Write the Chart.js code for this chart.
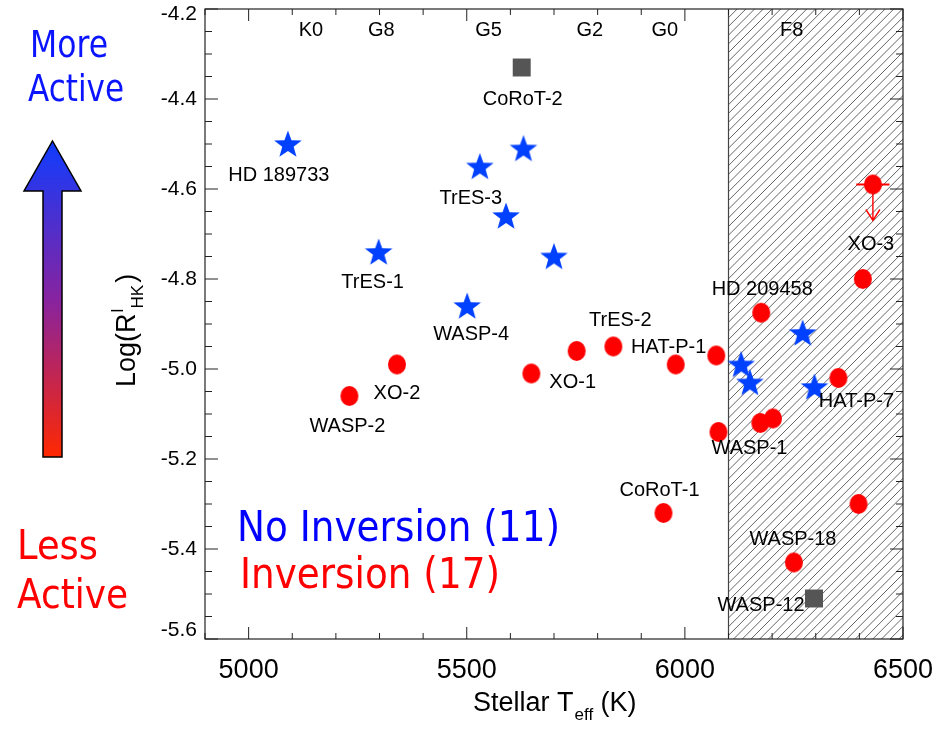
<!DOCTYPE html>
<html>
<head>
<meta charset="utf-8">
<script src="https://cdn.jsdelivr.net/npm/chart.js@4.4.1/dist/chart.umd.min.js"></script>
<style>
  html, body { margin: 0; padding: 0; background: #fff; }
</style>
</head>
<body>
<canvas id="myChart" width="950" height="729"></canvas>
<script>
// stars without a thermal inversion (blue)
const noInvTeff = [5090, 5530, 5630, 5590, 5298, 5700, 5501, 6270, 6129, 6149, 6297];
const noInvLogR = [-4.50, -4.55, -4.51, -4.66, -4.74, -4.75, -4.86, -4.92, -4.99, -5.03, -5.04];
const noInvNames = ['HD 189733', 'TrES-3', '', '', 'TrES-1', '', 'WASP-4', '', '', '', ''];

// stars with an inversion (red)
const invTeff = [5231, 5340, 5648, 5752, 5836, 5979, 6072, 6175, 6408, 6352, 6173, 6202, 6077, 5951, 6398, 6250, 6431];
const invLogR = [-5.06, -4.99, -5.01, -4.96, -4.95, -4.99, -4.97, -4.875, -4.80, -5.02, -5.12, -5.11, -5.14, -5.32, -5.30, -5.43, -4.59];
const invNames = ['WASP-2', 'XO-2', '', 'XO-1', 'TrES-2', 'HAT-P-1', '', 'HD 209458', '', 'HAT-P-7', '', '', 'WASP-1', 'CoRoT-1', '', 'WASP-18', 'XO-3'];

// undetermined (grey squares)
const otherTeff = [5626, 6296];
const otherLogR = [-4.33, -5.51];
const otherNames = ['CoRoT-2', 'WASP-12'];

// XO-3 is an upper limit with a Teff error bar
const xo3TeffErr = [6393, 6469];
const xo3LimitTo = -4.67;

const xTickLabels = [5000, 5500, 6000, 6500];
const yTickLabels = [-5.6, -5.4, -5.2, -5.0, -4.8, -4.6, -4.4, -4.2];
const spTypes = ['K0', 'G8', 'G5', 'G2', 'G0', 'F8'];
const spTeff = [5143, 5304, 5550, 5782, 5954, 6245];
const hatchFrom = 6100;

// label offsets in px from the marker (same order as names)
const noInvOffsets = [[-9, 30], [-9, 30], null, null, [-6, 29], null, [4, 27], null, null, null, null];
const invOffsets = [[-2, 29], [0, 27], null, [-4, 30], [7, -28], [-7, -19], null, [1, -25], null, [18, 22], null, null, [31, 15], [-4, -24], null, [-1, -25], [-2, 58]];
const otherOffsets = [[1, 30], [-53, 5]];

const SANS = '"Liberation Sans", Arial, Helvetica, sans-serif';
const VERA = '"DejaVu Sans", Verdana, sans-serif';

function makeStar(color){
  let c = document.createElement('canvas');
  c.width = 32; c.height = 32;
  let g = c.getContext('2d');
  g.beginPath();
  for (let i = 0; i < 10; i++) {
    let r = i % 2 === 0 ? 14.5 : 6.0;
    let a = -Math.PI / 2 + i * Math.PI / 5;
    let px = 16 + r * Math.cos(a), py = 17 + r * Math.sin(a);
    if (i === 0) g.moveTo(px, py); else g.lineTo(px, py);
  }
  g.closePath();
  g.fillStyle = color;
  g.fill();
  return c;
}

function makeDot(color){
  let c = document.createElement('canvas');
  c.width = 20; c.height = 22;
  let g = c.getContext('2d');
  g.beginPath();
  g.ellipse(10, 11, 9, 10, 0, 0, Math.PI * 2);
  g.fillStyle = color;
  g.fill();
  return c;
}

function pts(xs, ys){
  return xs.map((t, i) => ({x: t, y: ys[i]}));
}

// text squeezed to a given width (the original font is narrower than DejaVu)
function fitText(g, txt, x, y, size, width, color){
  g.save();
  g.font = size + 'px ' + VERA;
  g.fillStyle = color;
  g.textAlign = 'left';
  g.textBaseline = 'alphabetic';
  let w = g.measureText(txt).width;
  g.translate(x, y);
  g.scale(width / w, 1);
  g.fillText(txt, 0, 0);
  g.restore();
}

const hatchPlugin = {
  id: 'hatch',
  beforeDatasetsDraw(chart){
    const {ctx, chartArea: a, scales: {x, y}} = chart;
    const x0 = x.getPixelForValue(hatchFrom);
    const h = a.bottom - a.top;
    ctx.save();
    ctx.beginPath();
    ctx.rect(x0, a.top, a.right - x0, h);
    ctx.clip();
    ctx.strokeStyle = '#555';
    ctx.lineWidth = 0.9;
    for (let s = x0 - h; s < a.right + 10; s += 8.7) {
      ctx.beginPath();
      ctx.moveTo(s, a.bottom);
      ctx.lineTo(s + h, a.top);
      ctx.stroke();
    }
    ctx.restore();
    ctx.save();
    ctx.strokeStyle = '#444';
    ctx.lineWidth = 1.2;
    ctx.beginPath();
    ctx.moveTo(x0, a.top);
    ctx.lineTo(x0, a.bottom);
    ctx.stroke();

    // XO-3 error bar + upper limit arrow
    const i = invNames.indexOf('XO-3');
    const py = y.getPixelForValue(invLogR[i]);
    const px = x.getPixelForValue(invTeff[i]);
    ctx.strokeStyle = '#ff0000';
    ctx.lineWidth = 2;
    ctx.beginPath();
    ctx.moveTo(x.getPixelForValue(xo3TeffErr[0]), py);
    ctx.lineTo(x.getPixelForValue(xo3TeffErr[1]), py);
    ctx.stroke();
    const tip = y.getPixelForValue(xo3LimitTo);
    ctx.lineWidth = 1.4;
    ctx.beginPath();
    ctx.moveTo(px, py);
    ctx.lineTo(px, tip);
    ctx.moveTo(px - 7, tip - 11);
    ctx.lineTo(px, tip);
    ctx.lineTo(px + 7, tip - 11);
    ctx.stroke();
    ctx.restore();
  }
};

const framePlugin = {
  id: 'frame',
  afterDraw(chart){
    const {ctx, chartArea: a, scales: {x, y}} = chart;
    ctx.save();
    ctx.strokeStyle = '#222';
    ctx.lineWidth = 1.2;
    ctx.strokeRect(a.left, a.top, a.right - a.left, a.bottom - a.top);

    // inward ticks on all four sides
    ctx.lineWidth = 1;
    ctx.beginPath();
    for (let v = 4900; v <= 6500; v += 100) {
      let px = x.getPixelForValue(v);
      let len = v % 500 === 0 ? 12 : 6;
      ctx.moveTo(px, a.bottom); ctx.lineTo(px, a.bottom - len);
      ctx.moveTo(px, a.top); ctx.lineTo(px, a.top + len);
    }
    for (let k = 0; k <= 28; k++) {
      let v = -5.6 + k * 0.05;
      let py = y.getPixelForValue(v);
      let len = k % 4 === 0 ? 13 : 7;
      ctx.moveTo(a.left, py); ctx.lineTo(a.left + len, py);
      ctx.moveTo(a.right, py); ctx.lineTo(a.right - len, py);
    }
    ctx.stroke();

    // y tick labels
    ctx.fillStyle = '#000';
    ctx.font = '21px ' + SANS;
    ctx.textAlign = 'right';
    ctx.textBaseline = 'middle';
    yTickLabels.forEach(v => {
      let py = Math.min(Math.max(y.getPixelForValue(v), a.top + 5), a.bottom - 9);
      ctx.fillText(v.toFixed(1), 197, py);
    });

    // spectral types along the top
    ctx.font = '20px ' + SANS;
    ctx.textAlign = 'center';
    spTypes.forEach((s, i) => {
      ctx.fillText(s, x.getPixelForValue(spTeff[i]), a.top + 21);
    });

    // point labels
    const groups = [
      [noInvTeff, noInvLogR, noInvNames, noInvOffsets],
      [invTeff, invLogR, invNames, invOffsets],
      [otherTeff, otherLogR, otherNames, otherOffsets]
    ];
    ctx.font = '20px ' + SANS;
    ctx.textBaseline = 'alphabetic';
    groups.forEach(([xs, ys, names, offs]) => {
      names.forEach((n, i) => {
        if (!n) return;
        let px = x.getPixelForValue(xs[i]) + offs[i][0];
        let py = y.getPixelForValue(ys[i]) + offs[i][1];
        ctx.fillText(n, px, py + 7);
      });
    });

    // x axis title
    ctx.textAlign = 'left';
    ctx.font = '27px ' + SANS;
    let tx = 473, ty = 711;
    ctx.fillText('Stellar T', tx, ty);
    tx += ctx.measureText('Stellar T').width + 1;
    ctx.font = '17px ' + SANS;
    ctx.fillText('eff', tx, ty + 9);
    tx += ctx.measureText('eff').width;
    ctx.font = '27px ' + SANS;
    ctx.fillText(' (K)', tx, ty);

    // y axis title (rotated)
    ctx.save();
    ctx.translate(135, 387);
    ctx.rotate(-Math.PI / 2);
    ctx.font = '27px ' + SANS;
    ctx.fillText('Log(R', 0, 0);
    let w = ctx.measureText('Log(R').width;
    ctx.font = '17px ' + SANS;
    ctx.fillText('l', w + 1, -12);
    ctx.fillText('HK', w + 5, 8);
    let w2 = ctx.measureText('HK').width;
    ctx.font = '27px ' + SANS;
    ctx.fillText(')', w + 7 + w2, 0);
    ctx.restore();

    // activity arrow on the left
    const grad = ctx.createLinearGradient(0, 141, 0, 457);
    grad.addColorStop(0, 'rgb(15,60,255)');
    grad.addColorStop(0.5, 'rgb(135,35,160)');
    grad.addColorStop(1, 'rgb(255,40,0)');
    ctx.beginPath();
    ctx.moveTo(52.5, 141);
    ctx.lineTo(81, 191);
    ctx.lineTo(62, 191);
    ctx.lineTo(62, 457);
    ctx.lineTo(43, 457);
    ctx.lineTo(43, 191);
    ctx.lineTo(24, 191);
    ctx.closePath();
    ctx.fillStyle = grad;
    ctx.fill();
    ctx.strokeStyle = '#000';
    ctx.lineWidth = 1.5;
    ctx.stroke();

    fitText(ctx, 'More', 30, 57, 38, 78, '#0a14ff');
    fitText(ctx, 'Active', 28, 101, 38, 96, '#0a14ff');
    fitText(ctx, 'Less', 17, 559, 41, 81, '#ff0000');
    fitText(ctx, 'Active', 17, 608, 41, 111, '#ff0000');
    fitText(ctx, 'No Inversion (11)', 237, 541, 43, 323, '#0000ff');
    fitText(ctx, 'Inversion (17)', 240, 588, 43, 260, '#ff0000');
    ctx.restore();
  }
};

let ctx = document.getElementById('myChart').getContext('2d');
let myChart = new Chart(ctx, {
  type: 'scatter',
  data: {
    datasets: [
      {
        label: 'No Inversion',
        data: pts(noInvTeff, noInvLogR),
        pointStyle: makeStar('rgb(0,64,255)'),
        pointRadius: 15
      },
      {
        label: 'Inversion',
        data: pts(invTeff, invLogR),
        pointStyle: makeDot('#ff0000'),
        pointRadius: 10
      },
      {
        label: 'Other',
        data: pts(otherTeff, otherLogR),
        pointStyle: 'rect',
        pointRadius: 12.7,
        backgroundColor: '#555555',
        borderWidth: 0
      }
    ]
  },
  options: {
    responsive: false,
    animation: false,
    events: [],
    layout: { autoPadding: false, padding: { left: 0, right: 47, top: 9, bottom: 0 } },
    plugins: { legend: { display: false }, tooltip: { enabled: false } },
    scales: {
      x: {
        type: 'linear', min: 4900, max: 6500,
        afterBuildTicks: s => { s.ticks = xTickLabels.map(v => ({ value: v })); },
        afterFit: s => { s.height = 90; },
        grid: { display: false, drawTicks: false },
        border: { display: false },
        ticks: { font: { family: SANS, size: 27 }, color: '#000', padding: 15, maxRotation: 0, autoSkip: false,
                 callback: v => String(v) }
      },
      y: {
        type: 'linear', min: -5.6, max: -4.2,
        afterFit: s => { s.width = 205; },
        grid: { display: false, drawTicks: false },
        border: { display: false },
        ticks: { display: false }
      }
    }
  },
  plugins: [hatchPlugin, framePlugin]
});
</script>
</body>
</html>
